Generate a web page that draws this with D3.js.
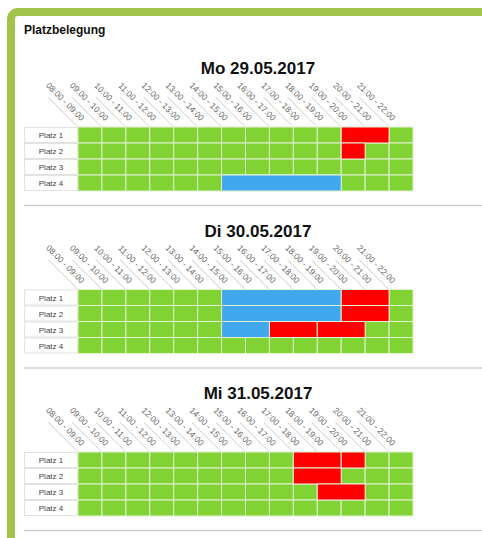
<!DOCTYPE html>
<html>
<head>
<meta charset="utf-8">
<script src="https://cdn.jsdelivr.net/npm/d3@7"></script>
<style>
  html, body { margin: 0; padding: 0; background: #fff; }
  svg { display: block; font-family: "Liberation Sans", Arial, sans-serif; }
</style>
</head>
<body>
<svg id="chart" width="482" height="538"></svg>
<script>
// ---- data ----
const title = "Platzbelegung";
const days = ["Mo 29.05.2017", "Di 30.05.2017", "Mi 31.05.2017"];
const courts = ["Platz 1", "Platz 2", "Platz 3", "Platz 4"];
const slotStarts = [8, 9, 10, 11, 12, 13, 14, 15, 16, 17, 18, 19, 20, 21];
const slotLabels = ["08:00 - 09:00", "09:00 - 10:00", "10:00 - 11:00", "11:00 - 12:00",
  "12:00 - 13:00", "13:00 - 14:00", "14:00 - 15:00", "15:00 - 16:00", "16:00 - 17:00",
  "17:00 - 18:00", "18:00 - 19:00", "19:00 - 20:00", "20:00 - 21:00", "21:00 - 22:00"];
// [court, from hour, to hour, kind]
const bookingsMo = [
  ["Platz 1", 19, 21, "belegt"],
  ["Platz 2", 19, 20, "belegt"],
  ["Platz 4", 14, 19, "training"]
];
const bookingsDi = [
  ["Platz 1", 14, 19, "training"],
  ["Platz 1", 19, 21, "belegt"],
  ["Platz 2", 14, 19, "training"],
  ["Platz 2", 19, 21, "belegt"],
  ["Platz 3", 14, 16, "training"],
  ["Platz 3", 16, 18, "belegt"],
  ["Platz 3", 18, 20, "belegt"]
];
const bookingsMi = [
  ["Platz 1", 17, 19, "belegt"],
  ["Platz 1", 19, 20, "belegt"],
  ["Platz 2", 17, 19, "belegt"],
  ["Platz 3", 18, 20, "belegt"]
];
const dayBookings = [bookingsMo, bookingsDi, bookingsMi];

// ---- styles ----
const colors = { frei: "#80d332", belegt: "#ff0000", training: "#41a8ee" };
const cellStroke = "#e4f2d4";

const svg = d3.select("#chart");

// frame
svg.append("rect")
  .attr("x", 11).attr("y", 12).attr("width", 700).attr("height", 700)
  .attr("rx", 7).attr("fill", "#fff")
  .attr("stroke", "#a3c44b").attr("stroke-width", 8);

svg.append("text")
  .attr("x", 24).attr("y", 34)
  .attr("font-size", 12).attr("font-weight", "bold").attr("fill", "#111")
  .text(title);

const x = d3.scaleLinear().domain([8, 22]).range([78, 413]);
const y = d3.scaleBand().domain(courts).range([0, 64]);
const dayStep = 162.5;

days.forEach((day, d) => {
  const base = 74 + d * dayStep;   // title baseline
  const gTop = base + 53;          // grid top
  const g = svg.append("g");

  g.append("text")
    .attr("x", 258).attr("y", base)
    .attr("text-anchor", "middle")
    .attr("font-size", 17).attr("font-weight", "bold").attr("fill", "#111")
    .text(day);

  // rotated column headers
  const hdr = g.selectAll("g.hdr").data(slotStarts).join("g")
    .attr("class", "hdr")
    .attr("transform", s => `translate(${x(s)},${gTop}) rotate(45)`);
  hdr.append("line")
    .attr("x1", -42).attr("y1", 0).attr("x2", 0).attr("y2", 0)
    .attr("stroke", "#d6d6d6").attr("stroke-width", 1);
  hdr.append("text")
    .attr("x", -2).attr("y", -6)
    .attr("text-anchor", "end")
    .attr("font-size", 8.5).attr("fill", "#666")
    .text((s, i) => slotLabels[i]);

  // row labels
  const rl = g.selectAll("g.rl").data(courts).join("g")
    .attr("class", "rl")
    .attr("transform", c => `translate(0,${gTop + y(c)})`);
  rl.append("rect")
    .attr("x", 24.5).attr("y", 0.5).attr("width", 53).attr("height", y.bandwidth() - 1)
    .attr("fill", "#fff").attr("stroke", "#e2e2e2");
  rl.append("text")
    .attr("x", 51).attr("y", y.bandwidth() / 2 + 3)
    .attr("text-anchor", "middle")
    .attr("font-size", 8).attr("fill", "#444")
    .text(c => c);

  // free cells
  const cells = [];
  courts.forEach(c => slotStarts.forEach(s => cells.push([c, s])));
  g.selectAll("rect.cell").data(cells).join("rect")
    .attr("class", "cell")
    .attr("x", c => x(c[1]))
    .attr("y", c => gTop + y(c[0]))
    .attr("width", x(9) - x(8))
    .attr("height", y.bandwidth())
    .attr("fill", colors.frei)
    .attr("stroke", cellStroke).attr("stroke-width", 1);

  // bookings
  g.selectAll("rect.bk").data(dayBookings[d]).join("rect")
    .attr("class", "bk")
    .attr("x", b => x(b[1]))
    .attr("y", b => gTop + y(b[0]))
    .attr("width", b => x(b[2]) - x(b[1]))
    .attr("height", y.bandwidth())
    .attr("fill", b => colors[b[3]])
    .attr("stroke", cellStroke).attr("stroke-width", 1);

  // separator
  g.append("line")
    .attr("x1", 24).attr("x2", 482)
    .attr("y1", base + 131.5).attr("y2", base + 131.5)
    .attr("stroke", "#cfcfcf").attr("stroke-width", 1.5);
});
</script>
</body>
</html>
